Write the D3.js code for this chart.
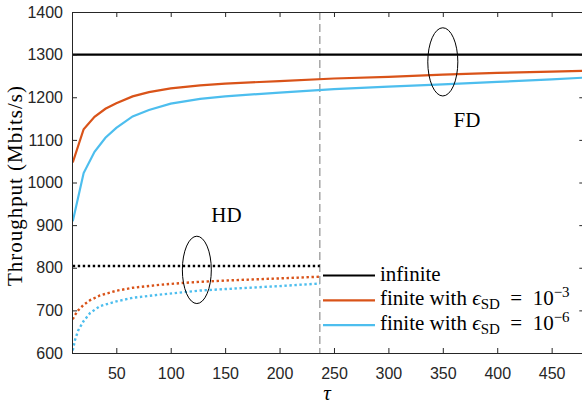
<!DOCTYPE html>
<html>
<head>
<meta charset="utf-8">
<script src="https://cdn.jsdelivr.net/npm/d3@7"></script>
<style>
  body { margin: 0; background: #fff; }
  svg { display: block; }
  .tick text { font-family: "Liberation Sans", Arial, sans-serif; font-size: 16px; fill: #262626; }
  .serif { font-family: "Liberation Serif", "Times New Roman", serif; fill: #000; }
</style>
</head>
<body>
<div id="chart"></div>
<script>
// full duplex curves
const tauFD = [10, 20, 30, 40, 50, 65, 80, 100, 127, 150, 200, 250, 300, 350, 400, 450, 480]
const fdInfinite = tauFD.map(() => 1300)
const fdFinite3 = [1047, 1125, 1154, 1173, 1186, 1202, 1212, 1221, 1228, 1232, 1238, 1244, 1248, 1253, 1257, 1260, 1262]
const fdFinite6 = [909, 1022, 1072, 1105, 1128, 1155, 1170, 1185, 1196, 1202, 1211, 1219, 1225, 1230, 1236, 1242, 1246]

// half duplex curves
const tauHD = [10, 12, 15, 20, 26, 35, 50, 65, 90, 112, 127, 150, 200, 237]
const hdInfinite = tauHD.map(() => 804)
const hdFinite3 = [679, 689, 700, 713, 724, 735, 746, 753, 760, 764.5, 767, 770, 775, 779]
const hdFinite6 = [606, 630, 653, 675, 694, 710, 721, 729.5, 737, 742.5, 746.5, 750, 757, 763]

const xTicks = [50, 100, 150, 200, 250, 300, 350, 400, 450]
const yTicks = [600, 700, 800, 900, 1000, 1100, 1200, 1300, 1400]
const splitTau = 237
const legendLabels = ['infinite', 'finite with', 'finite with']
const legendExp = ['', '\u22123', '\u22126']

const W = 582
const H = 405
const orange = '#D95319'
const blue = '#4DBEEE'

const svg = d3.select('#chart').append('svg').attr('width', W).attr('height', H)

const x = d3.scaleLinear([9.3, 480], [72, 584.3])
const y = d3.scaleLinear([600, 1400], [353, 12])

const clip = svg.append('clipPath').attr('id', 'plot')
clip.append('rect').attr('x', 72).attr('y', 12).attr('width', 513).attr('height', 342)

const g = svg.append('g').attr('clip-path', 'url(#plot)')

const line = (xs) => d3.line().x((d, i) => x(xs[i])).y((d) => y(d))

// dashed separator
g.append('line')
  .attr('x1', x(splitTau)).attr('x2', x(splitTau))
  .attr('y1', y(1400)).attr('y2', y(600))
  .attr('stroke', '#999').attr('stroke-width', 1.3)
  .attr('stroke-dasharray', '8,4')

const fdSeries = [[fdInfinite, '#000'], [fdFinite3, orange], [fdFinite6, blue]]
const hdSeries = [[hdInfinite, '#000'], [hdFinite3, orange], [hdFinite6, blue]]

fdSeries.forEach(([vals, col]) => {
  g.append('path').attr('d', line(tauFD)(vals))
    .attr('fill', 'none').attr('stroke', col).attr('stroke-width', 2.2)
})
hdSeries.forEach(([vals, col]) => {
  g.append('path').attr('d', line(tauHD)(vals))
    .attr('fill', 'none').attr('stroke', col).attr('stroke-width', 2.4)
    .attr('stroke-dasharray', '2.4,2.6')
})

// ellipses marking FD and HD groups
const ellipses = [[350, 1283, 13.8, 80], [124, 795, 13.3, 79]]
ellipses.forEach(([cx, cy, rx, ry]) => {
  g.append('ellipse')
    .attr('cx', x(cx)).attr('cy', y(cy))
    .attr('rx', x(cx + rx) - x(cx)).attr('ry', y(cy) - y(cy + ry))
    .attr('fill', 'none').attr('stroke', '#000').attr('stroke-width', 1)
})

svg.append('text').attr('class', 'serif').attr('x', 467).attr('y', 127)
  .attr('text-anchor', 'middle').attr('font-size', 21).text('FD')
svg.append('text').attr('class', 'serif').attr('x', 226.5).attr('y', 222)
  .attr('text-anchor', 'middle').attr('font-size', 21).text('HD')

// axes
const axisColor = '#262626'
const styleAxis = (sel) => {
  sel.select('.domain').attr('stroke', axisColor)
  sel.selectAll('.tick line').attr('stroke', axisColor)
}
svg.append('g').attr('transform', 'translate(0,353)')
  .call(d3.axisBottom(x).tickValues(xTicks).tickSize(-5).tickSizeOuter(0).tickPadding(15).tickFormat(d3.format('d')))
  .call(styleAxis)
svg.append('g').attr('transform', 'translate(0,12)')
  .call(d3.axisTop(x).tickValues(xTicks).tickSize(-5).tickSizeOuter(0).tickFormat(''))
  .call(styleAxis)
svg.append('g').attr('transform', 'translate(72,0)')
  .call(d3.axisLeft(y).tickValues(yTicks).tickSize(-5).tickSizeOuter(0).tickPadding(9).tickFormat(d3.format('d')))
  .call(styleAxis)
svg.append('g').attr('transform', 'translate(584.3,0)')
  .call(d3.axisRight(y).tickValues(yTicks).tickSize(-5).tickSizeOuter(0).tickFormat(''))
  .call(styleAxis)

// axis labels
svg.append('text').attr('class', 'serif')
  .attr('transform', 'translate(22,186) rotate(-90)')
  .attr('text-anchor', 'middle').attr('font-size', 21)
  .attr('textLength', 200).attr('lengthAdjust', 'spacing')
  .text('Throughput (Mbits/s)')
svg.append('text').attr('class', 'serif').attr('x', 327).attr('y', 400)
  .attr('text-anchor', 'middle').attr('font-size', 21).attr('font-style', 'italic')
  .text('\u03C4')

// legend
const legendColors = ['#000', orange, blue]
const legend = svg.append('g')
legendLabels.forEach((lab, i) => {
  const ly = 275.5 + i * 24.8
  legend.append('line').attr('x1', 323).attr('x2', 375).attr('y1', ly).attr('y2', ly)
    .attr('stroke', legendColors[i]).attr('stroke-width', 2.2)
  const t = legend.append('text').attr('class', 'serif').attr('x', 380).attr('y', ly + 5)
    .attr('font-size', 21)
  t.append('tspan').text(lab)
  if (legendExp[i]) {
    t.append('tspan').attr('font-style', 'italic').text(' \u03F5')
    t.append('tspan').attr('font-size', 15).attr('dy', 4).text('SD')
    t.append('tspan').attr('dy', -4).text('\u2002=\u200210')
    t.append('tspan').attr('font-size', 15).attr('dy', -8).text(legendExp[i])
  }
})
</script>
</body>
</html>
